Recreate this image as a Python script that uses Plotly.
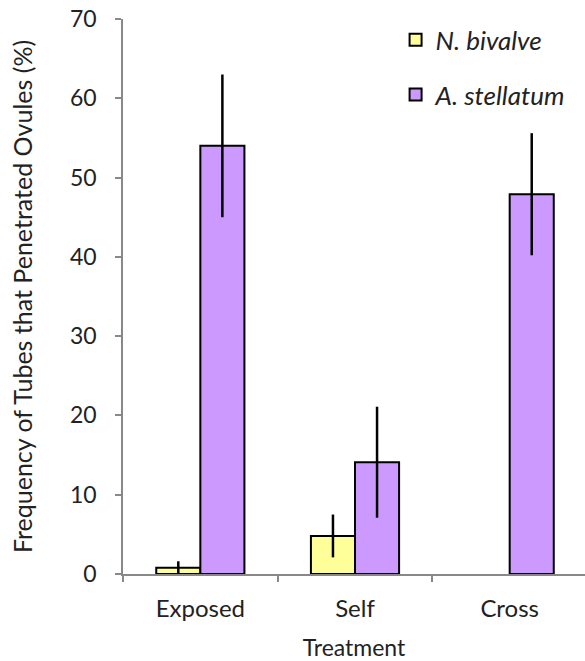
import plotly.graph_objects as go

categories = ["Exposed", "Self", "Cross"]
nb_values = [0.8, 4.8, None]
nb_errors = [0.8, 2.7, None]
as_values = [54.0, 14.1, 47.9]
as_errors = [9.0, 7.0, 7.7]

font_family = "Lato, 'Open Sans', sans-serif"

fig = go.Figure()
fig.add_trace(go.Bar(
    x=categories, y=nb_values, name="<i>N. bivalve</i>",
    marker=dict(color="#FFFF99", line=dict(color="black", width=2)),
    error_y=dict(type="data", array=nb_errors, visible=True, color="black", thickness=2.5, width=0),
    legendgroup="a",
))
fig.add_trace(go.Bar(
    x=categories, y=as_values, name="<i>A. stellatum</i>",
    marker=dict(color="#CC99FF", line=dict(color="black", width=2)),
    error_y=dict(type="data", array=as_errors, visible=True, color="black", thickness=2.5, width=0),
    legendgroup="b",
))

fig.update_layout(
    width=585, height=661,
    margin=dict(l=123, r=0, t=19, b=87),
    plot_bgcolor="white", paper_bgcolor="white",
    barmode="group", bargap=0.43, bargroupgap=0,
    font=dict(family=font_family, size=22, color="#222222"),
    legend=dict(x=0.59, y=1.005, xanchor="left", yanchor="top",
                font=dict(size=26, color="#222222"),
                tracegroupgap=18, traceorder="grouped",
                bgcolor="rgba(0,0,0,0)"),
    xaxis=dict(
        range=[-0.5, 2.487], showline=True, linecolor="#888888", linewidth=1.5,
        ticks="outside", tickson="boundaries", ticklen=6, tickcolor="#888888", tickwidth=1.5,
        ticklabelstandoff=12,
        title=dict(text="Treatment", font=dict(size=23), standoff=20),
        tickfont=dict(size=24),
    ),
    yaxis=dict(
        range=[0, 70], dtick=10, showline=True, linecolor="#888888", linewidth=1.5,
        ticks="outside", ticklen=6, tickcolor="#888888", tickwidth=1.5,
        ticklabelstandoff=14,
        showgrid=False, zeroline=False,
        title=dict(text="Frequency of Tubes that Penetrated Ovules (%)", font=dict(size=25), standoff=30),
        tickfont=dict(size=23),
    ),
)

fig.write_html("out.html")
